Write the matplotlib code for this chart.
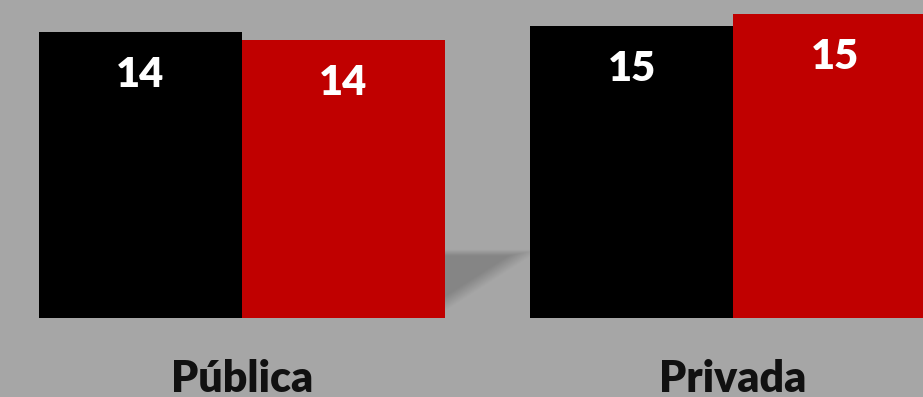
import numpy as np
import matplotlib
matplotlib.use("Agg")
import matplotlib.pyplot as plt

# Data
categories = ["Pública", "Privada"]
series_black = [14.3, 14.6]
series_red = [13.9, 15.2]

BG = "#a6a6a6"
BLACK = "#000000"
RED = "#c00000"

plt.rcParams["font.family"] = ["Lato", "DejaVu Sans"]

fig = plt.figure(figsize=(9.23, 3.97), dpi=100, facecolor=BG)
ax = fig.add_axes([0, 0, 1, 1])
ax.set_facecolor(BG)

x = np.arange(len(categories))
width = 203 / 491

ax.set_xlim(-242 / 491, (923 - 242) / 491)
ax.set_ylim(-79 / 20, 318 / 20)

# soft drop shadow in the gap between the groups
gx0, gx1 = x[0] + width, x[1] - width
nx, ny = 200, 200
xs = np.linspace(0, 1, nx)
ys = np.linspace(0, 1, ny)
X, Y = np.meshgrid(xs, ys)
top = 0.95
lower = 0.04 + 0.80 * X
d_top = (top - Y) / 0.09
d_low = (Y - lower) / 0.22
a = np.clip(np.minimum(d_top, d_low), 0, 1)
a = a * 0.36
img = np.zeros((ny, nx, 4))
img[..., :3] = 0.3
img[..., 3] = a
ax.imshow(img, extent=[gx0, gx1, 0.2, 3.6], origin="lower",
          aspect="auto", zorder=1, interpolation="bilinear")

bars_b = ax.bar(x - width / 2, series_black, width, color=BLACK, zorder=2)
bars_r = ax.bar(x + width / 2, series_red, width, color=RED, zorder=2)

for bars in (bars_b, bars_r):
    for b in bars:
        h = b.get_height()
        ax.text(b.get_x() + b.get_width() / 2, h - 2.15, f"{h:.0f}",
                ha="center", va="center", color="white",
                fontsize=30, fontweight="heavy", zorder=3)

for xi, cat in zip(x, categories):
    ax.text(xi, -3.7, cat, ha="center", va="baseline", color="#111111",
            fontsize=31, fontweight="heavy")

ax.axis("off")
fig.savefig("out.png", dpi=100, facecolor=BG)
